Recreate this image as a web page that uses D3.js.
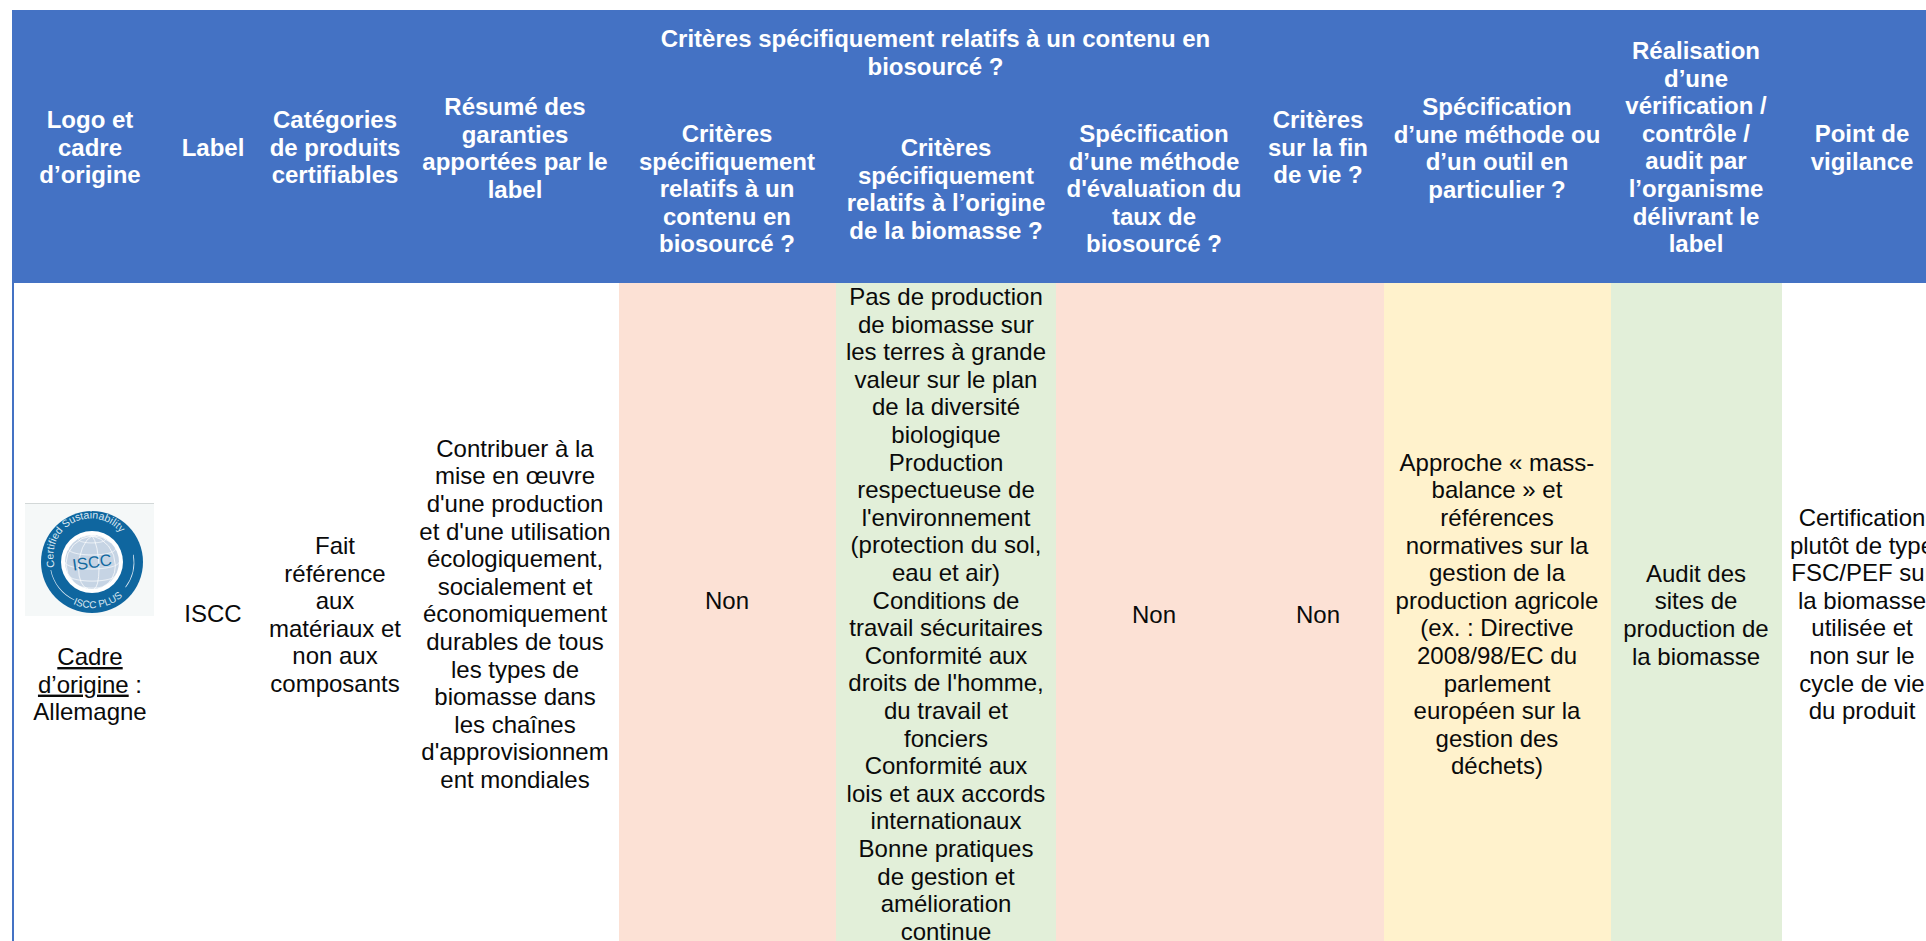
<!DOCTYPE html>
<html lang="fr">
	<head>
		<meta charset="utf-8">
		<title>Labels biosourcés - ISCC</title>
		<script src="https://cdn.jsdelivr.net/npm/d3@7"></script>
		<style>
			html, body { margin: 0; padding: 0; background: #fff; overflow: hidden; }
			svg { display: block; }
			text { font-family: "Liberation Sans", Arial, sans-serif; }
		</style>
	</head>
	<body>
	<script>
		// table content
		var columns = ["logo", "label", "categories", "resume", "contenu", "origine", "methode", "finVie", "outil", "audit", "vigilance"];

		var spanHeader = ["Critères spécifiquement relatifs à un contenu en", "biosourcé ?"];

		var headerLines = [
			["Logo et", "cadre", "d’origine"],
			["Label"],
			["Catégories", "de produits", "certifiables"],
			["Résumé des", "garanties", "apportées par le", "label"],
			["Critères", "spécifiquement", "relatifs à un", "contenu en", "biosourcé ?"],
			["Critères", "spécifiquement", "relatifs à l’origine", "de la biomasse ?"],
			["Spécification", "d’une méthode", "d'évaluation du", "taux de", "biosourcé ?"],
			["Critères", "sur la fin", "de vie ?"],
			["Spécification", "d’une méthode ou", "d’un outil en", "particulier ?"],
			["Réalisation", "d’une", "vérification /", "contrôle /", "audit par", "l’organisme", "délivrant le", "label"],
			["Point de", "vigilance"]
		];

		var bodyLines = [
			["Cadre", "d’origine :", "Allemagne"],
			["ISCC"],
			["Fait", "référence", "aux", "matériaux et", "non aux", "composants"],
			["Contribuer à la", "mise en œuvre", "d'une production", "et d'une utilisation", "écologiquement,", "socialement et", "économiquement", "durables de tous", "les types de", "biomasse dans", "les chaînes", "d'approvisionnem", "ent mondiales"],
			["Non"],
			["Pas de production", "de biomasse sur", "les terres à grande", "valeur sur le plan", "de la diversité", "biologique", "Production", "respectueuse de", "l'environnement", "(protection du sol,", "eau et air)", "Conditions de", "travail sécuritaires", "Conformité aux", "droits de l'homme,", "du travail et", "fonciers", "Conformité aux", "lois et aux accords", "internationaux", "Bonne pratiques", "de gestion et", "amélioration", "continue"],
			["Non"],
			["Non"],
			["Approche « mass-", "balance » et", "références", "normatives sur la", "gestion de la", "production agricole", "(ex. : Directive", "2008/98/EC du", "parlement", "européen sur la", "gestion des", "déchets)"],
			["Audit des", "sites de", "production de", "la biomasse"],
			["Certification", "plutôt de type", "FSC/PEF sur", "la biomasse", "utilisée et", "non sur le", "cycle de vie", "du produit"]
		];

		var ratings = ["none", "none", "none", "none", "no", "yes", "no", "no", "partial", "yes", "none"];

		// layout
		var w = 1926, h = 941;
		var tableLeft = 12, tableTop = 10, headerBottom = 283;
		var lineH = 27.6, fontSize = 24;

		var colCenter = d3.scaleOrdinal().domain(columns)
			.range([90, 213, 335, 515, 727, 946, 1154, 1318, 1497, 1696, 1862]);
		var colLeft = d3.scaleOrdinal().domain(columns)
			.range([14, 160, 250, 410, 619, 836, 1056, 1240, 1384, 1611, 1782]);
		var colRight = d3.scaleOrdinal().domain(columns)
			.range([160, 250, 410, 619, 836, 1056, 1240, 1384, 1611, 1782, 1926]);
		var fillOf = d3.scaleOrdinal().domain(["none", "no", "yes", "partial"])
			.range(["#ffffff", "#fce1d5", "#e2efd9", "#fff2cc"]);

		// baseline of the first text line in each column
		var headerFirst = [128, 156, 128, 115, 142, 156, 142, 128, 115, 59, 142];
		var bodyFirst = [665, 622, 554, 456.7, 609, 305, 622.5, 622.5, 470.7, 581.7, 526];

		var lineY = d3.scaleLinear().domain([0, 1]).range([0, lineH]);

		var svg = d3.select("body").append("svg")
			.attr("width", w)
			.attr("height", h);

		// header band and left rule
		svg.append("rect")
			.attr("x", tableLeft).attr("y", tableTop)
			.attr("width", w - tableLeft).attr("height", headerBottom - tableTop)
			.attr("fill", "#4472c4");
		svg.append("rect")
			.attr("x", tableLeft).attr("y", headerBottom)
			.attr("width", 2).attr("height", h - headerBottom)
			.attr("fill", "#4472c4");

		// coloured body cells
		svg.selectAll("rect.cell")
			.data(columns)
			.enter()
			.append("rect")
			.attr("class", "cell")
			.attr("x", function(d) { return colLeft(d); })
			.attr("y", headerBottom)
			.attr("width", function(d) { return colRight(d) - colLeft(d); })
			.attr("height", h - headerBottom)
			.attr("fill", function(d, i) { return fillOf(ratings[i]); });

		function drawLines(lines, cx, first, color, weight) {
			svg.append("g")
				.selectAll("text")
				.data(lines)
				.enter()
				.append("text")
				.attr("x", cx)
				.attr("y", function(d, i) { return first + lineY(i); })
				.attr("text-anchor", "middle")
				.attr("font-size", fontSize)
				.attr("font-weight", weight)
				.attr("fill", color)
				.text(function(d) { return d; });
		}

		drawLines(spanHeader, 935.5, 47, "#ffffff", "bold");

		columns.forEach(function(c, i) {
			drawLines(headerLines[i], colCenter(c), headerFirst[i], "#ffffff", "bold");
			if (c != "logo") drawLines(bodyLines[i], colCenter(c), bodyFirst[i], "#0a0a0a", "normal");
		});

		// first column has underlined words
		var cadre = svg.append("g")
			.selectAll("text")
			.data(bodyLines[0])
			.enter()
			.append("text")
			.attr("x", colCenter("logo"))
			.attr("y", function(d, i) { return bodyFirst[0] + lineY(i); })
			.attr("text-anchor", "middle")
			.attr("font-size", fontSize)
			.attr("fill", "#0a0a0a");
		cadre.each(function(d, i) {
			var t = d3.select(this);
			if (i == 2) { t.text(d); return; }
			var word = d.replace(" :", "");
			t.append("tspan").attr("text-decoration", "underline").text(word);
			if (word != d) t.append("tspan").text(" :");
		});

		// ISCC logo
		var logo = svg.append("g");
		logo.append("rect").attr("x", 25).attr("y", 503).attr("width", 129).attr("height", 113).attr("fill", "#f5f8f8");
		logo.append("line").attr("x1", 25).attr("x2", 154).attr("y1", 503.5).attr("y2", 503.5).attr("stroke", "#d3d8d8");
		var g = logo.append("g").attr("transform", "translate(92,562)");
		g.append("circle").attr("r", 51).attr("fill", "#0f669f");
		g.append("circle").attr("r", 31).attr("fill", "#ffffff");
		g.append("circle").attr("r", 27).attr("fill", "#c6d4e4");
		var globe = d3.geoOrthographic().scale(27).translate([0, 0]).rotate([15, -15]);
		g.append("path")
			.attr("d", d3.geoPath(globe)(d3.geoGraticule().step([45, 30])()))
			.attr("fill", "none")
			.attr("stroke", "#ffffff")
			.attr("stroke-width", 0.7);
		g.append("text")
			.attr("text-anchor", "middle")
			.attr("y", 6)
			.attr("font-size", 16.5)
			.attr("fill", "#12699f")
			.attr("transform", "rotate(-8)")
			.text("ISCC");

		var arc = d3.arc();
		g.append("path").attr("id", "logoTop").attr("fill", "none")
			.attr("d", "M -37 5 A 37.5 37.5 0 1 1 36 -11");
		g.append("path").attr("id", "logoBottom").attr("fill", "none")
			.attr("d", "M -19 42 A 46 46 0 0 0 34 31");
		g.append("text").attr("font-size", 10.5).attr("fill", "#dbe8f2")
			.append("textPath").attr("href", "#logoTop").text("Certified Sustainability");
		g.append("text").attr("font-size", 10).attr("fill", "#dbe8f2")
			.append("textPath").attr("href", "#logoBottom").text("ISCC PLUS");
		[[80, 127], [205, 259]].forEach(function(a) {
			g.append("path")
				.attr("d", arc({ innerRadius: 41.6, outerRadius: 42.3, startAngle: a[0] * Math.PI / 180, endAngle: a[1] * Math.PI / 180 }))
				.attr("fill", "#dbe8f2");
		});
	</script>
	</body>
</html>
